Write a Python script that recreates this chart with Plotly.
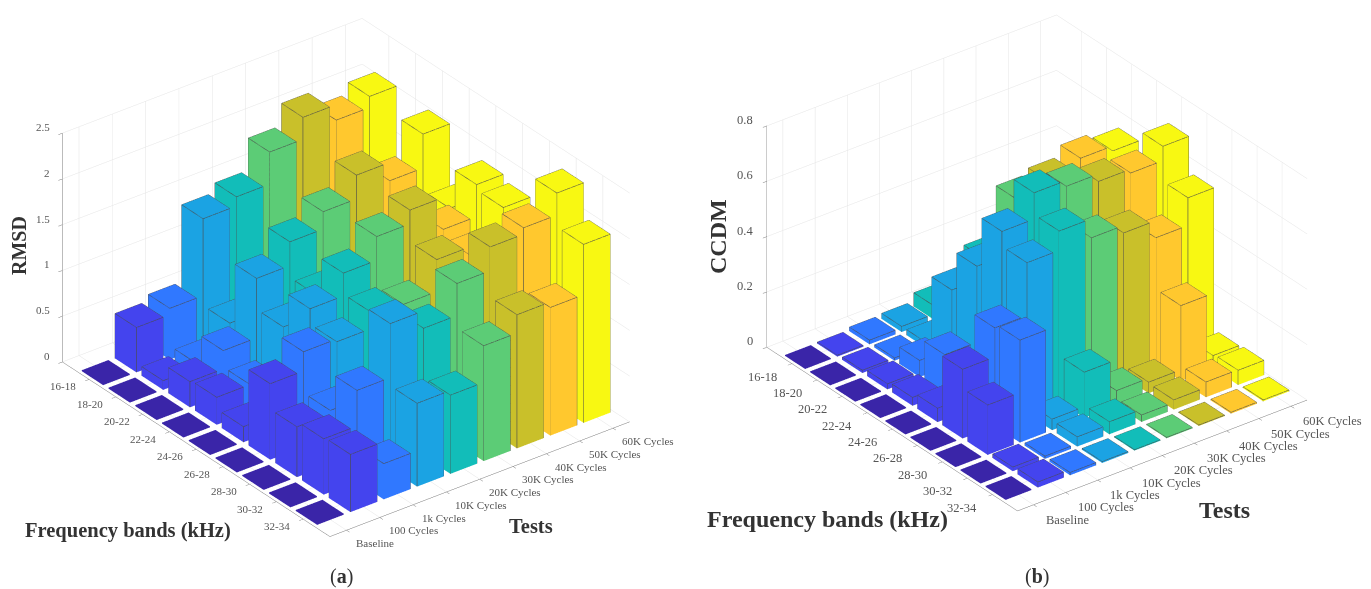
import plotly.graph_objects as go

tests = ["Baseline", "100 Cycles", "1k Cycles", "10K Cycles", "20K Cycles", "30K Cycles", "40K Cycles", "50K Cycles", "60K Cycles"]
bands = ["16-18", "18-20", "20-22", "22-24", "24-26", "26-28", "28-30", "30-32", "32-34"]
colors = ["#3a25a8", "#4444ee", "#3078ff", "#1ba3e3", "#12bdb9", "#5ccc76", "#c9c02a", "#ffc82e", "#f8f812"]
rmsd_ticks = [0, 0.5, 1, 1.5, 2, 2.5]
ccdm_ticks = [0, 0.2, 0.4, 0.6, 0.8]

# one row per test, one value per frequency band
rmsd_baseline = [0, 0, 0, 0, 0, 0, 0, 0, 0]
rmsd_100 = [0.49, 0.10, 0.28, 0.30, 0.17, 0.83, 0.55, 0.61, 0.63]
rmsd_1k = [0.56, 0.15, 0.48, 0.30, 0.20, 1.04, 0.59, 1.00, 0.39]
rmsd_10k = [1.40, 0.45, 1.13, 0.79, 1.18, 1.01, 0.55, 1.59, 0.91]
rmsd_20k = [1.50, 0.60, 1.39, 1.00, 1.43, 1.20, 1.00, 1.40, 0.86]
rmsd_30k = [1.85, 0.90, 1.58, 0.95, 1.69, 1.14, 0.90, 1.75, 1.26]
rmsd_40k = [2.09, 1.10, 1.84, 1.15, 1.84, 1.49, 1.25, 2.01, 1.46]
rmsd_50k = [1.92, 1.20, 1.64, 1.30, 1.49, 1.40, 1.30, 2.08, 1.40]
rmsd_60k = [2.04, 1.10, 2.01, 1.39, 1.84, 1.78, 1.40, 2.32, 1.95]
rmsd = [rmsd_baseline, rmsd_100, rmsd_1k, rmsd_10k, rmsd_20k, rmsd_30k, rmsd_40k, rmsd_50k, rmsd_60k]

ccdm_baseline = [0, 0, 0, 0, 0, 0, 0, 0, 0]
ccdm_100 = [0.005, 0.01, 0.02, 0.03, 0.05, 0.25, 0.18, 0.015, 0.02]
ccdm_1k = [0.015, 0.01, 0.06, 0.14, 0.10, 0.355, 0.37, 0.01, 0.01]
ccdm_10k = [0.02, 0.02, 0.27, 0.415, 0.60, 0.546, 0.04, 0.035, 0.005]
ccdm_20k = [0.05, 0.15, 0.34, 0.45, 0.695, 0.616, 0.165, 0.045, 0.003]
ccdm_30k = [0.03, 0.15, 0.51, 0.55, 0.674, 0.547, 0.054, 0.025, 0.002]
ccdm_40k = [0.05, 0.30, 0.53, 0.55, 0.647, 0.52, 0.04, 0.035, 0.003]
ccdm_50k = [0.10, 0.30, 0.568, 0.50, 0.633, 0.458, 0.272, 0.055, 0.005]
ccdm_60k = [0.02, 0.15, 0.55, 0.50, 0.685, 0.558, 0.047, 0.053, 0.005]
ccdm = [ccdm_baseline, ccdm_100, ccdm_1k, ccdm_10k, ccdm_20k, ccdm_30k, ccdm_40k, ccdm_50k, ccdm_60k]

W = 0.4
FONT = "Liberation Serif"
PAGE_MARGIN = 8  # the page adds this many pixels before the figure
fig = go.Figure()


def add_bars(values, scene, zmax):
    for i, row in enumerate(values):
        vx, vy, vz, ti, tj, tk = [], [], [], [], [], []
        ex, ey, ez = [], [], []
        for j, h in enumerate(row):
            cx, cy = i + 1, 10 - (j + 1)
            h = max(h, 0.004 * zmax)
            n = len(vx)
            for dz in (0, h):
                for dx, dy in ((-W, -W), (W, -W), (W, W), (-W, W)):
                    vx.append(cx + dx)
                    vy.append(cy + dy)
                    vz.append(dz)
            quads = [(0, 1, 2, 3), (4, 5, 6, 7), (0, 1, 5, 4), (1, 2, 6, 5), (2, 3, 7, 6), (3, 0, 4, 7)]
            for a, b, c, d in quads:
                ti += [n + a, n + a]
                tj += [n + b, n + c]
                tk += [n + c, n + d]
            if i > 0:
                c = [(cx - W, cy - W), (cx + W, cy - W), (cx + W, cy + W), (cx - W, cy + W), (cx - W, cy - W)]
                ex += [p[0] for p in c] + [None]
                ey += [p[1] for p in c] + [None]
                ez += [h] * 5 + [None]
                for p in c[:4]:
                    ex += [p[0], p[0], None]
                    ey += [p[1], p[1], None]
                    ez += [0, h, None]
        fig.add_trace(go.Mesh3d(
            x=vx, y=vy, z=vz, i=ti, j=tj, k=tk, color=colors[i], flatshading=True,
            lighting=dict(ambient=1, diffuse=0, specular=0, fresnel=0, roughness=1),
            hoverinfo="skip", showscale=False, scene=scene, name=tests[i]))
        if ex:
            fig.add_trace(go.Scatter3d(
                x=ex, y=ey, z=ez, mode="lines", line=dict(color="#4a4a4a", width=1.2),
                hoverinfo="skip", showlegend=False, scene=scene))


add_bars(rmsd, "scene", 2.5)
add_bars(ccdm, "scene2", 0.8)


def axis(tvals, rng):
    return dict(
        range=rng, tickmode="array", tickvals=tvals, showticklabels=False, title=dict(text=""),
        showbackground=False, showgrid=True, gridcolor="#e4e4e4", gridwidth=1, zeroline=False,
        showline=True, linecolor="#777777", linewidth=1, ticks="outside", ticklen=5, tickcolor="#777777",
        showspikes=False)


def labels(zticks, size, test_shift, band_shift, z_shift):
    font = dict(family=FONT, size=size, color="#555555")
    out = []
    for i, t in enumerate(tests):
        out.append(dict(x=i + 1, y=0, z=0, text=t, showarrow=False, xanchor="left", yanchor="middle",
                        xshift=test_shift[0], yshift=test_shift[1], font=font))
    for j, b in enumerate(bands):
        out.append(dict(x=0.5, y=10 - (j + 1), z=0, text=b, showarrow=False, xanchor="right", yanchor="middle",
                        xshift=band_shift[0], yshift=band_shift[1], font=font))
    for v in zticks:
        out.append(dict(x=0.5, y=10, z=v, text=str(v), showarrow=False, xanchor="right", yanchor="middle",
                        xshift=z_shift[0], yshift=z_shift[1], font=font))
    return out


def scene_layout(zvals, zmax, aspect, cz, dom_x, size, test_shift, band_shift, z_shift):
    R = 2.0
    return dict(
        domain=dict(x=[dom_x[0] / 1371, dom_x[1] / 1371], y=[0, 1]),
        xaxis=axis(list(range(1, 10)), [0.5, 9.5]),
        yaxis=axis([10 - j for j in range(1, 10)], [0, 10]),
        zaxis=axis(zvals, [0, zmax]),
        aspectmode="manual", aspectratio=dict(x=aspect[0], y=aspect[1], z=aspect[2]),
        camera=dict(projection=dict(type="orthographic"), up=dict(x=0, y=0, z=1),
                    center=dict(x=0, y=0, z=cz),
                    eye=dict(x=-0.608 * 0.866 * R, y=-0.794 * 0.866 * R, z=0.5 * R + cz)),
        annotations=labels(zvals, size, test_shift, band_shift, z_shift),
        dragmode=False)


fig.update_layout(
    width=1371, height=589, margin=dict(l=0, r=0, t=0, b=0), paper_bgcolor="white", showlegend=False,
    scene=scene_layout(rmsd_ticks, 2.5, (1.282, 1.494, 0.897), -0.098, (18, 658), 11,
                       (7, -13), (-11, -7), (-10, 6)),
    scene2=scene_layout(ccdm_ticks, 0.8, (1.239, 1.40, 0.868), -0.155, (709, 1349), 12.5,
                        (10, -15), (-13, -13), (-12, 6)),
)


def note(x, y, text, size, angle=0):
    fig.add_annotation(x=(x - PAGE_MARGIN) / 1371, y=1 - (y - PAGE_MARGIN) / 589, xref="paper", yref="paper",
                       text=text, showarrow=False, xanchor="center", yanchor="middle",
                       textangle=angle, font=dict(family=FONT, size=size, color="#333333"))


note(19, 246, "<b>RMSD</b>", 20, -90)
note(128, 530, "<b>Frequency bands (kHz)</b>", 20.5)
note(531, 526, "<b>Tests</b>", 20.5)
note(341, 576, "(<b>a</b>)", 20)
note(718, 237, "<b>CCDM</b>", 24, -90)
note(827, 519, "<b>Frequency bands (kHz)</b>", 24)
note(1224, 510, "<b>Tests</b>", 24)
note(1037, 576, "(<b>b</b>)", 20)

fig.write_html("out.html")
